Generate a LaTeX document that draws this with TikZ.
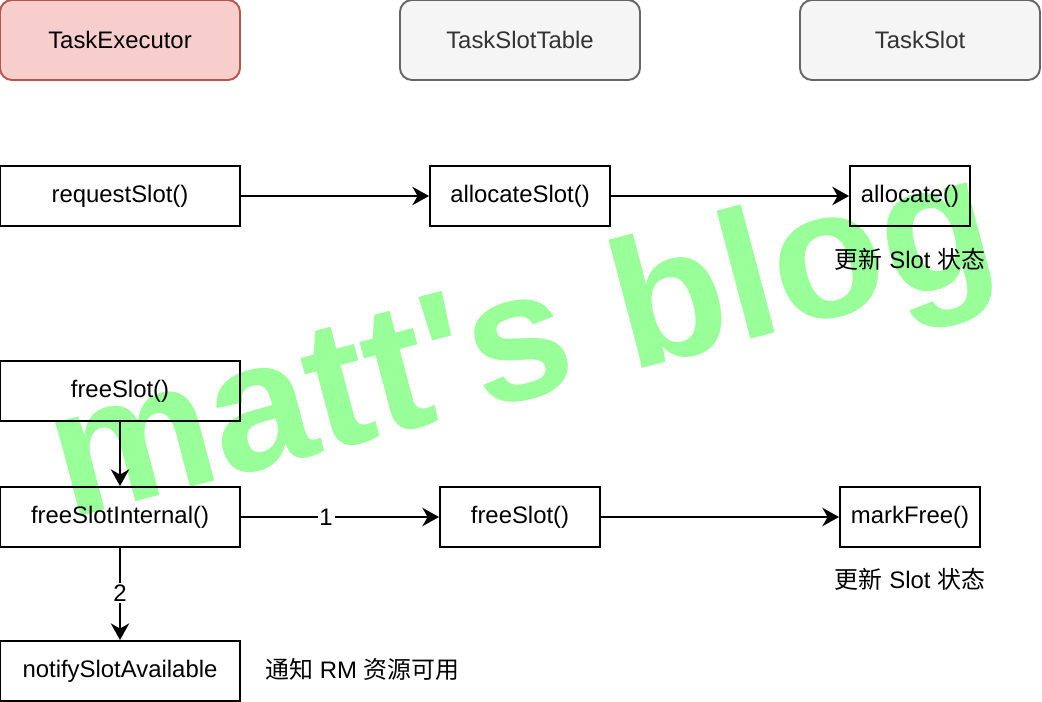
\documentclass[tikz,border=0pt]{standalone}
\usepackage{xcolor}
\usepackage{fontspec}
\setmainfont{Liberation Sans}
\newfontfamily\markFont{Liberation Sans}[Ligatures=TeXOff]
\newfontfamily\cjkFont{Noto Sans CJK SC}
\usetikzlibrary{arrows.meta}

\definecolor{execFill}{HTML}{F8CECC}
\definecolor{execLine}{HTML}{B85450}
\definecolor{greyFill}{HTML}{F5F5F5}
\definecolor{greyLine}{HTML}{666666}
\definecolor{greyText}{HTML}{333333}
\definecolor{markGreen}{HTML}{99FF99}

\begin{document}
\begin{tikzpicture}[
		font = \fontsize{13.6}{16}\selectfont,
		lane/.style = {draw = greyLine, fill = greyFill, text = greyText, rounded corners = 0.24cm,
			line width = 1.1pt, minimum width = 4.8cm, minimum height = 1.6cm, inner sep = 0pt},
		call/.style = {draw, line width = 1.1pt, minimum height = 1.2cm, inner sep = 0pt},
		note/.style = {inner sep = 0pt},
		flow/.style = {-{Stealth[length = 9.5pt, width = 10.5pt, inset = 3pt]}, line width = 1.1pt},
		num/.style = {fill = white, inner sep = 1pt}
	]
	\def\wide{4.8};
	\def\yTop{-0.8};
	\def\yAlloc{-3.92};
	\def\yFree{-7.82};
	\def\yInternal{-10.34};
	\def\yNotify{-13.42};

	\useasboundingbox (0,0) rectangle (20.84,-14.04);

	% watermark goes underneath
	\node [anchor = base west, rotate = 14.8, inner sep = 0pt, text = markGreen,
		font = \markFont\fontsize{104}{104}\bfseries\selectfont] (mark) at (1.36,-10.4) {matt's blog};

	% lanes
	\begin{scope}
		\node [lane, draw = execLine, fill = execFill, text = black] (executor) at (2.4,\yTop) {TaskExecutor};
		\node [lane] (slotTable) at (10.4,\yTop) {TaskSlotTable};
		\node [lane] (slot) at (18.4,\yTop) {TaskSlot};
	\end{scope}

	% allocate
	\begin{scope}
		\node [call, minimum width = \wide cm] (requestSlot) at (2.4,\yAlloc) {requestSlot()};
		\node [call, minimum width = 3.6cm] (allocateSlot) at (10.4,\yAlloc) {allocateSlot()};
		\node [call, minimum width = 2.4cm] (allocate) at (18.2,\yAlloc) {allocate()};
		\node [note] (allocNote) at (18.2,-5.18) {{\cjkFont 更新} Slot {\cjkFont 状态}};

		\draw [flow] (requestSlot) -- (allocateSlot);
		\draw [flow] (allocateSlot) -- (allocate);
	\end{scope}

	% free
	\begin{scope}
		\node [call, minimum width = \wide cm] (freeSlotTE) at (2.4,\yFree) {freeSlot()};
		\node [call, minimum width = \wide cm] (freeInternal) at (2.4,\yInternal) {freeSlotInternal()};
		\node [call, minimum width = 3.2cm] (freeSlotTable) at (10.4,\yInternal) {freeSlot()};
		\node [call, minimum width = 2.8cm] (markFree) at (18.2,\yInternal) {markFree()};
		\node [note] (freeNote) at (18.2,-11.58) {{\cjkFont 更新} Slot {\cjkFont 状态}};
		\node [call, minimum width = \wide cm] (notify) at (2.4,\yNotify) {notifySlotAvailable};
		\node [note, anchor = west] (notifyNote) at (5.3,-13.38) {{\cjkFont 通知} RM {\cjkFont 资源可用}};

		\draw [flow] (freeSlotTE) -- (freeInternal);
		\draw [flow] (freeInternal) -- node [num, pos = 0.43] {1} (freeSlotTable);
		\draw [flow] (freeSlotTable) -- (markFree);
		\draw [flow] (freeInternal) -- node [num, pos = 0.49] {2} (notify);
	\end{scope}
\end{tikzpicture}
\end{document}
